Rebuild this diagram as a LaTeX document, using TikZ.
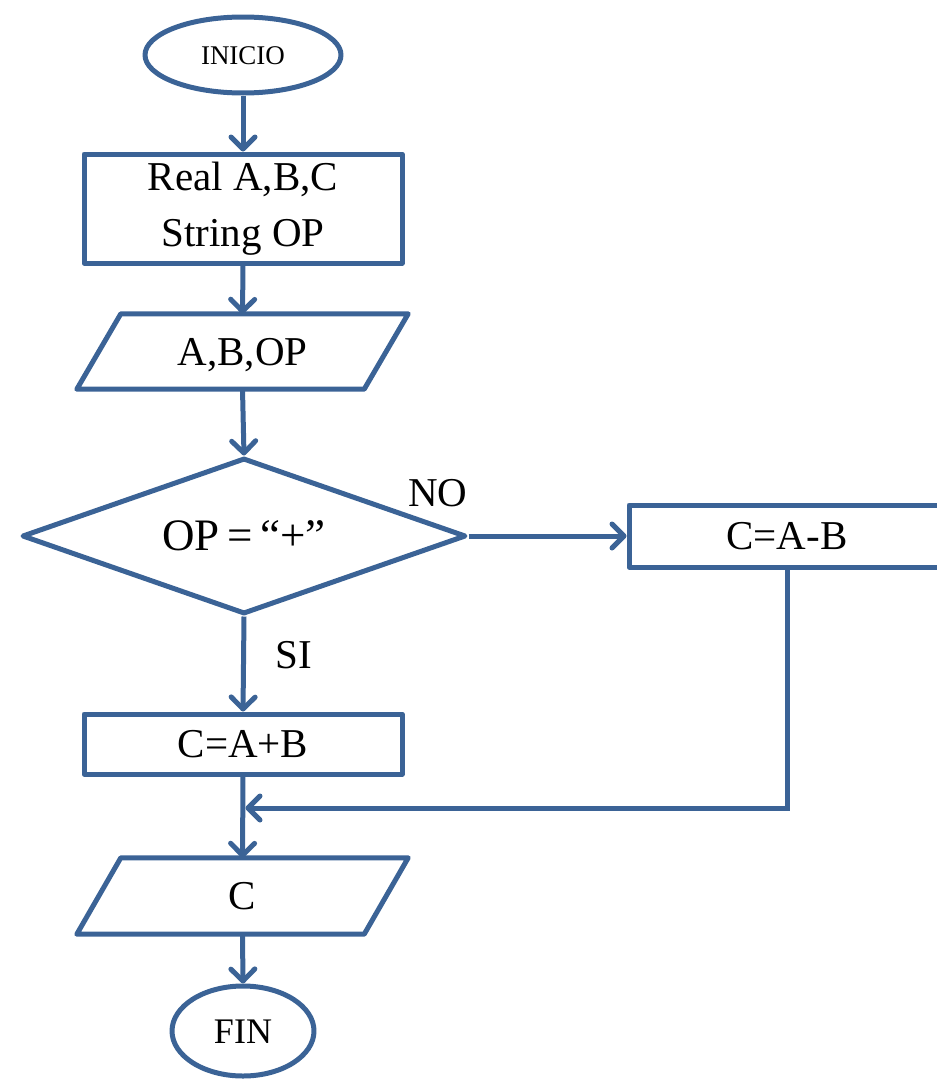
\documentclass[tikz,border=0pt]{standalone}
\usepackage{fontspec}
\setmainfont{Liberation Serif}
\usetikzlibrary{shapes.geometric,arrows.meta}
\definecolor{fc}{RGB}{59,99,150}
\begin{document}
\begin{tikzpicture}[x=1pt,y=-1pt,
  flow/.style={draw=fc, line width=5pt, line join=round},
  txt/.style={font=\fontsize{41}{56}\selectfont, text height=27pt, text depth=0pt, inner sep=0pt},
  arr/.style={draw=fc, line width=5pt, -{Straight Barb[length=12pt,width=24pt,round]}},
  lbl/.style={font=\fontsize{41}{56}\selectfont, anchor=base, inner sep=0pt}]
\useasboundingbox (0,0) rectangle (937,1079);
\clip (0,0) rectangle (937,1079);

\node[ellipse, flow, minimum width=196pt, minimum height=76pt, inner sep=0pt,
      font=\fontsize{27}{30}\selectfont, text height=18pt, text depth=0pt] (ini) at (243,55) {INICIO};
\node[rectangle, flow, minimum width=318pt, minimum height=109pt, inner sep=0pt,
      font=\fontsize{41}{56}\selectfont, align=center] (dec) at (243,208.5) {Real A,B,C\\String OP};
\node[txt, minimum width=331pt, minimum height=75pt] (in) at (242.5,351.5) {A,B,OP};
\draw[flow] ([xshift=44pt]in.north west) -- (in.north east) -- ([xshift=-44pt]in.south east) -- (in.south west) -- cycle;
\node[diamond, flow, shape aspect=2.85, minimum width=444pt, minimum height=156pt, txt,
      font=\fontsize{45}{56}\selectfont, text height=29pt] (cond) at (244,536) {OP\,=\,“+”};
\node[rectangle, flow, minimum width=316pt, minimum height=62pt, txt] (sub) at (787,536) {C=A-B};
\node[rectangle, flow, minimum width=318pt, minimum height=60pt, txt] (add) at (243,744) {C=A+B};
\node[txt, minimum width=331pt, minimum height=76pt] (out) at (242.5,896) {C};
\draw[flow] ([xshift=44pt]out.north west) -- (out.north east) -- ([xshift=-44pt]out.south east) -- (out.south west) -- cycle;
\node[ellipse, flow, minimum width=142pt, minimum height=90pt, inner sep=0pt,
      font=\fontsize{36}{40}\selectfont, text height=24pt, text depth=0pt] (fin) at (243,1031) {FIN};

\node[lbl] (no) at (438,506) {NO};
\node[lbl] (si) at (294,668) {SI};
\coordinate (j) at (243,808);

\draw[arr] (ini.south) -- (dec.north);
\draw[arr] (dec.south) -- (in.north);
\draw[arr] (in.south) -- (cond.north);
\draw[arr] (cond.east) -- (sub.west);
\draw[arr] (cond.south) -- (add.north);
\draw[arr] (add.south) -- (out.north);
\draw[arr] (out.south) -- (fin.north);
\draw[arr, shorten >=2.5pt] (sub.south) |- (j);
\end{tikzpicture}
\end{document}
